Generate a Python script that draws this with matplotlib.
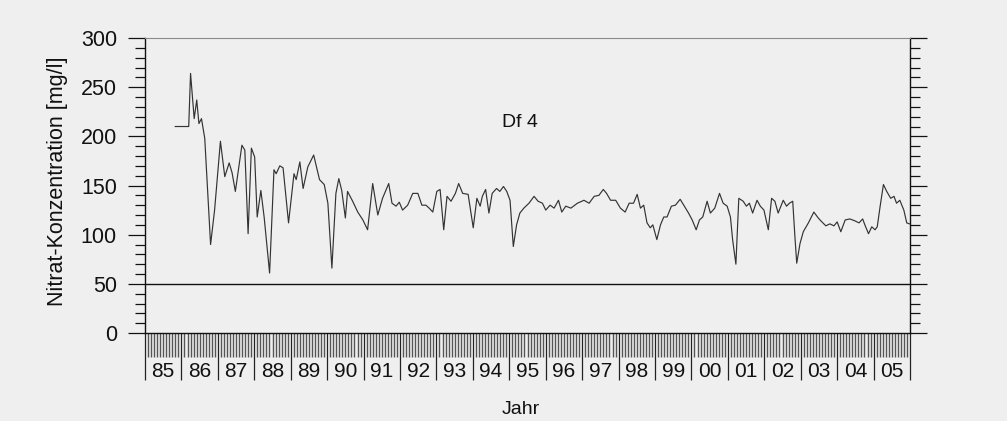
import matplotlib
matplotlib.use("Agg")
import matplotlib.pyplot as plt
import matplotlib.transforms as mtransforms
import numpy as np

plt.rcParams['font.family'] = ['Liberation Sans', 'DejaVu Sans']

# sampling dates (decimal years) and nitrate values [mg/l]
dates = [1985.83, 1986.20, 1986.25, 1986.35, 1986.42, 1986.48, 1986.55, 1986.64, 1986.80, 1986.91,
         1987.07, 1987.19, 1987.31, 1987.39, 1987.48, 1987.66, 1987.74, 1987.83, 1987.92, 1988.01,
         1988.08, 1988.18, 1988.27, 1988.42, 1988.54, 1988.60, 1988.70, 1988.79, 1988.94, 1989.09,
         1989.15, 1989.25, 1989.34, 1989.47, 1989.63, 1989.79, 1989.92, 1990.02, 1990.13, 1990.24,
         1990.32, 1990.40, 1990.50, 1990.56, 1990.70, 1990.84, 1990.98, 1991.11, 1991.25, 1991.39,
         1991.52, 1991.69, 1991.78, 1991.89, 1991.98, 1992.07, 1992.21, 1992.35, 1992.49, 1992.60,
         1992.71, 1992.80, 1992.90, 1993.01, 1993.10, 1993.20, 1993.29, 1993.40, 1993.52, 1993.61,
         1993.72, 1993.87, 1994.01, 1994.11, 1994.20, 1994.26, 1994.35, 1994.44, 1994.53, 1994.65,
         1994.74, 1994.84, 1994.93, 1995.02, 1995.11, 1995.20, 1995.29, 1995.40, 1995.54, 1995.68,
         1995.79, 1995.91, 1996.00, 1996.12, 1996.23, 1996.35, 1996.44, 1996.55, 1996.69, 1996.87,
         1997.05, 1997.19, 1997.33, 1997.46, 1997.58, 1997.67, 1997.78, 1997.92, 1998.05, 1998.18,
         1998.29, 1998.41, 1998.51, 1998.60, 1998.69, 1998.78, 1998.87, 1998.94, 1999.05, 1999.15,
         1999.24, 1999.33, 1999.45, 1999.56, 1999.69, 1999.79, 1999.92, 2000.02, 2000.13, 2000.22,
         2000.31, 2000.43, 2000.52, 2000.64, 2000.77, 2000.87, 2000.98, 2001.07, 2001.13, 2001.22,
         2001.30, 2001.42, 2001.51, 2001.59, 2001.68, 2001.80, 2001.89, 2001.99, 2002.11, 2002.20,
         2002.29, 2002.38, 2002.52, 2002.61, 2002.69, 2002.78, 2002.84, 2002.89, 2002.98, 2003.07,
         2003.21, 2003.36, 2003.48, 2003.58, 2003.69, 2003.80, 2003.91, 2004.00, 2004.10, 2004.22,
         2004.35, 2004.49, 2004.60, 2004.70, 2004.76, 2004.86, 2004.95, 2005.04, 2005.10, 2005.18,
         2005.27, 2005.36, 2005.47, 2005.56, 2005.63, 2005.72, 2005.83, 2005.91, 2005.98]

nitrat = [210, 210, 264, 218, 237, 213, 218, 198, 90, 125,
          195, 159, 173, 163, 144, 191, 186, 101, 188, 179,
          118, 145, 118, 61, 166, 162, 170, 168, 112, 162,
          156, 174, 147, 169, 181, 156, 151, 132, 66, 142,
          157, 145, 117, 144, 134, 123, 115, 105, 152, 120,
          137, 152, 132, 129, 133, 125, 130, 142, 142, 130,
          130, 127, 123, 144, 146, 105, 139, 134, 142, 152,
          142, 141, 107, 137, 129, 139, 146, 122, 142, 147,
          144, 149, 144, 135, 88, 110, 122, 127, 132, 139,
          134, 132, 125, 130, 127, 135, 123, 129, 127, 132,
          135, 132, 139, 140, 146, 142, 135, 135, 127, 123,
          132, 132, 141, 127, 130, 112, 107, 110, 95, 110,
          118, 118, 129, 130, 136, 130, 122, 115, 105, 115,
          118, 134, 122, 127, 142, 132, 129, 118, 95, 70,
          137, 134, 129, 132, 122, 135, 129, 125, 105, 137,
          134, 122, 135, 129, 132, 134, 98, 71, 91, 103,
          112, 123, 117, 113, 109, 111, 109, 113, 103, 115,
          116, 114, 112, 116, 110, 101, 108, 105, 108, 129,
          151, 144, 137, 139, 132, 135, 125, 112, 111]

years = list(range(1985, 2006))
year_labels = ['%02d' % (y % 100) for y in years]
grenzwert = 50
station = 'Df 4'

bg = '#efefef'
fig = plt.figure(figsize=(10.07, 4.21), dpi=100, facecolor=bg)
ax = fig.add_axes([0.144, 0.209, 0.7597, 0.7007], facecolor=bg)

ax.plot(dates, nitrat, color='#333333', lw=0.85)
ax.axhline(grenzwert, color='#111111', lw=1.0)

ax.set_xlim(1985, 2006)
ax.set_ylim(0, 300)

# spines
for s in ['left', 'right', 'bottom']:
    ax.spines[s].set_color('#111111')
    ax.spines[s].set_linewidth(1.0)
ax.spines['top'].set_color('#8a8a8a')
ax.spines['top'].set_linewidth(0.8)

# y ticks on both sides, outward
ax.set_yticks(np.arange(0, 301, 50))
ax.set_yticks(np.arange(0, 301, 10), minor=True)
ax.tick_params(axis='y', which='both', direction='out', left=True, right=True,
               labelright=False, colors='#111111', width=0.9)
ax.tick_params(axis='y', which='major', length=12.2, pad=8, labelsize=15.5)
ax.tick_params(axis='y', which='minor', length=7.2)

# x ticks: year boundaries long, months short
ax.set_xticks(np.arange(1985, 2007, 1))
ax.set_xticks(np.arange(1985, 2006, 1 / 12), minor=True)
ax.tick_params(axis='x', which='major', direction='out', length=33.8, width=0.9,
               color='#222222', labelbottom=False)
ax.tick_params(axis='x', which='minor', direction='out', length=17.3, width=1.0,
               color='#555555')

trans = mtransforms.blended_transform_factory(ax.transData, ax.transAxes)
for y, lab in zip(years, year_labels):
    ax.text(y + 0.5, -0.132, lab, transform=trans, ha='center', va='center',
            fontsize=15, color='#111111')

ax.text(1995.3, 214, station, ha='center', va='center', fontsize=14, color='#111111')

fig.text(57 / 1007, 1 - 181 / 421, 'Nitrat-Konzentration [mg/l]', rotation=90,
         ha='center', va='center', fontsize=15.5, color='#111111')
fig.text(521 / 1007, 1 - 409 / 421, 'Jahr', ha='center', va='center',
         fontsize=14, color='#111111')

fig.savefig('out.png', dpi=100, facecolor=bg)
